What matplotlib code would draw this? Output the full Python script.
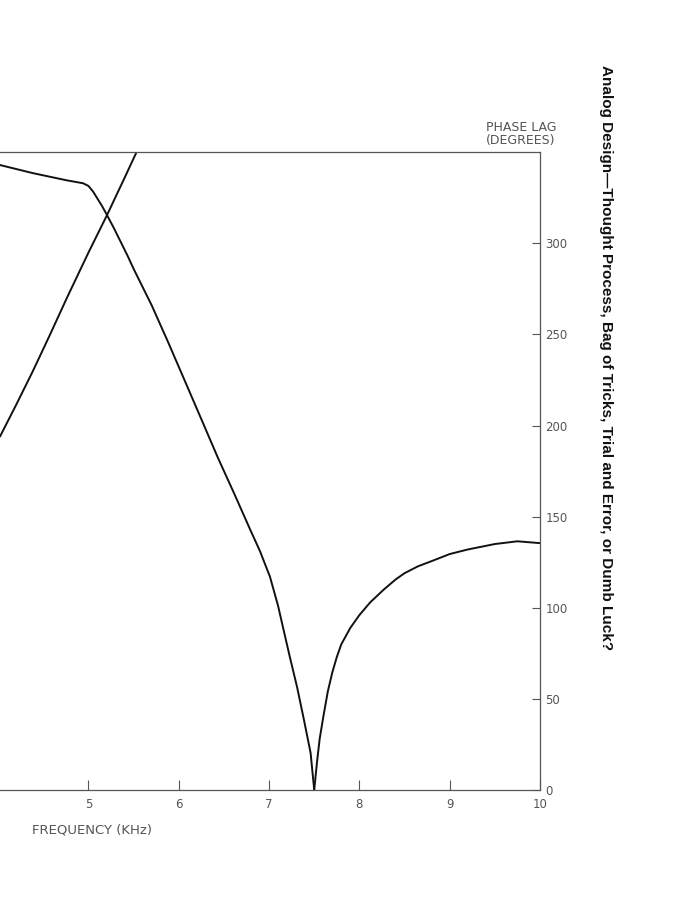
import matplotlib
matplotlib.use("Agg")
import matplotlib.pyplot as plt

# ---- data ----
freq_fall = [4.02, 4.38, 4.76, 4.94, 5.00, 5.05, 5.10, 5.15, 5.20, 5.28, 5.35, 5.43, 5.50,
             5.60, 5.70, 5.88, 6.05, 6.25, 6.43, 6.62, 6.79, 6.90, 7.01, 7.10, 7.16, 7.23,
             7.31, 7.38, 7.46, 7.50]
phase_fall = [343, 338.6, 334.6, 333, 331.5, 328.5, 324.5, 320.5, 316, 308.5, 301.5, 293.5, 286,
              276, 266, 246, 226.5, 203.5, 182.7, 162, 143, 131, 117, 101, 88, 73,
              56.5, 40, 20.3, 0]

freq_rise2 = [7.50, 7.53, 7.56, 7.60, 7.65, 7.70, 7.75, 7.80, 7.90, 8.00, 8.12, 8.27, 8.40,
              8.50, 8.65, 8.82, 9.00, 9.20, 9.50, 9.75, 10.0]
phase_rise2 = [0, 15, 28, 40, 54, 64.5, 73, 80, 89, 96, 103, 110, 115.5,
               119, 122.8, 126, 129.5, 132, 135, 136.5, 135.5]

freq_rise = [4.02, 4.20, 4.38, 4.57, 4.76, 5.00, 5.20, 5.40, 5.55]
phase_rise = [194, 211.5, 229.5, 249.5, 270, 295, 315, 336, 352]

x_ticks = [5, 6, 7, 8, 9, 10]
y_ticks = [0, 50, 100, 150, 200, 250, 300]

title_side = "Analog Design\u2014Thought Process, Bag of Tricks, Trial and Error, or Dumb Luck?"
y_label = "PHASE LAG\n(DEGREES)"
x_label = "FREQUENCY (KHz)"

# ---- figure ----
fig = plt.figure(figsize=(6.89, 9.0), dpi=100)
ax = fig.add_axes([0.0, 0.1222, 0.7837, 0.7086])
ax.set_xlim(4.02, 10.0)
ax.set_ylim(0, 350)

line_kw = dict(color="#111111", lw=1.4, solid_capstyle="round", solid_joinstyle="round")
ax.plot(freq_fall, phase_fall, **line_kw)
ax.plot(freq_rise2, phase_rise2, **line_kw)
ax.plot(freq_rise, phase_rise, **line_kw)

axis_col = "#555555"
ax.spines["left"].set_visible(False)
for side in ["top", "right", "bottom"]:
    ax.spines[side].set_color(axis_col)
    ax.spines[side].set_linewidth(0.9)

ax.yaxis.tick_right()
ax.set_xticks(x_ticks)
ax.set_xticklabels([str(v) for v in x_ticks])
ax.set_yticks(y_ticks)
ax.set_yticklabels([str(v) for v in y_ticks])
ax.tick_params(axis="x", direction="in", length=7, width=0.8, color=axis_col,
               labelsize=8.5, labelcolor="#555555", pad=6)
ax.tick_params(axis="y", direction="in", length=6, width=0.8, color=axis_col,
               labelsize=8.5, labelcolor="#555555", pad=4, right=True, left=False)

fig.text(521 / 689, 1 - 134 / 900, y_label, ha="center", va="center",
         fontsize=9, color="#555555", linespacing=1.0)
fig.text(32 / 689, 1 - 830 / 900, x_label, ha="left", va="center",
         fontsize=9.5, color="#555555")
fig.text(606 / 689, 1 - 358 / 900, title_side, rotation=-90, ha="center", va="center",
         fontsize=11, fontweight="bold", color="#111111",
         family=["Liberation Sans Narrow", "Liberation Sans", "DejaVu Sans"])

fig.savefig("out.png", dpi=100)
